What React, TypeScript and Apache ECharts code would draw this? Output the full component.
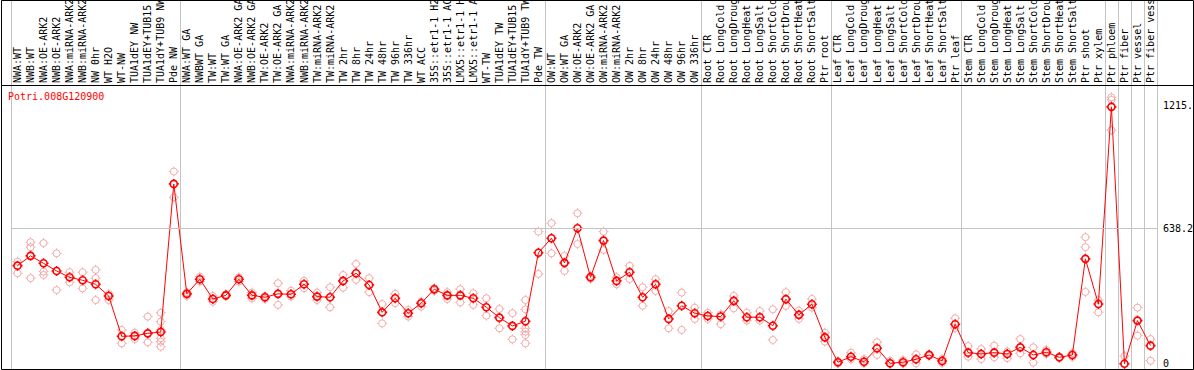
import React, { useEffect, useRef } from "react";
import * as echarts from "echarts";

const geneId = "Potri.008G120900";

const categories = [
  "NWA:WT", "NWB:WT", "NWA:OE-ARK2", "NWB:OE-ARK2", "NWA:miRNA-ARK2", "NWB:miRNA-ARK2",
  "NW 0hr", "WT H2O", "WT-NW", "TUA1dEY NW", "TUA1dEY+TUB15 NW", "TUA1dY+TUB9 NW", "Pde NW",
  "NWA:WT GA", "NWBWT GA", "TW:WT", "TW:WT GA", "NWA:OE-ARK2 GA", "NWB:OE-ARK2 GA",
  "TW:OE-ARK2", "TW:OE-ARK2 GA", "NWA:miRNA-ARK2", "NWB:miRNA-ARK2", "TW:miRNA-ARK2",
  "TW:miRNA-ARK2", "TW 2hr", "TW 8hr", "TW 24hr", "TW 48hr", "TW 96hr", "TW 336hr", "WT ACC",
  "35S::etr1-1 H2O", "35S::etr1-1 ACC", "LMX5::etr1-1 H2O", "LMX5::etr1-1 ACC", "WT-TW",
  "TUA1dEY TW", "TUA1dEY+TUB15 TW", "TUA1dY+TUB9 TW", "Pde TW",
  "OW:WT", "OW:WT GA", "OW:OE-ARK2", "OW:OE-ARK2 GA", "OW:miRNA-ARK2", "OW:miRNA-ARK2",
  "OW 2hr", "OW 8hr", "OW 24hr", "OW 48hr", "OW 96hr", "OW 336hr",
  "Root CTR", "Root LongCold", "Root LongDrought", "Root LongHeat", "Root LongSalt",
  "Root ShortCold", "Root ShortDrought", "Root ShortHeat", "Root ShortSalt", "Ptr root",
  "Leaf CTR", "Leaf LongCold", "Leaf LongDrought", "Leaf LongHeat", "Leaf LongSalt",
  "Leaf ShortCold", "Leaf ShortDrought", "Leaf ShortHeat", "Leaf ShortSalt", "Ptr leaf",
  "Stem CTR", "Stem LongCold", "Stem LongDrought", "Stem LongHeat", "Stem LongSalt",
  "Stem ShortCold", "Stem ShortDrought", "Stem ShortHeat", "Stem ShortSalt", "Ptr shoot",
  "Ptr xylem", "Ptr phloem", "Ptr fiber", "Ptr vessel", "Ptr fiber vessel",
];

const meanValues = [
  462, 508, 473, 437, 407, 393, 374, 319, 129, 131, 143, 149, 847,
  329, 398, 305, 322, 398, 322, 313, 329, 327, 374, 316, 313, 390, 426, 371, 242, 308, 238,
  285, 351, 322, 322, 308, 266, 217, 178, 200, 523,
  591, 475, 638, 407, 580, 390, 431, 313, 374, 211, 273, 238,
  225, 222, 296, 219, 219, 179, 304, 230, 280, 124,
  7, 33, 9, 73, 2, 7, 21, 41, 13, 186,
  52, 46, 52, 46, 77, 41, 54, 30, 41, 494, 281,
  1210, 0, 203, 85,
];

const replicateValues: number[][] = [
  [481, 426], [572, 549, 403], [568, 434, 418], [520, 347], [431, 384], [431, 355],
  [442, 403, 300], [329, 300], [159, 96], [146, 116], [222, 101],
  [240, 198, 159, 120, 104, 80], [905, 784],
  [337, 319], [410, 387], [319, 292], [319, 328], [407, 387], [335, 308], [319, 305],
  [379, 277], [344, 316], [390, 355], [335, 300], [360, 266], [418, 358], [470, 395],
  [403, 337], [281, 190], [329, 285], [253, 222], [292, 269], [355, 343], [337, 305],
  [351, 289], [332, 277], [308, 226], [258, 167], [238, 115],
  [300, 256, 167, 151, 135, 96], [622, 423],
  [662, 520], [508, 437], [709, 564], [400, 414], [622, 536], [407, 374], [461, 399],
  [360, 273], [398, 343], [248, 167], [335, 159], [264, 211],
  [240, 211], [233, 186], [319, 261], [240, 203], [248, 203], [256, 112], [337, 272],
  [250, 211], [305, 264], [146, 104],
  [12, 2], [52, 21], [21, 2], [101, 41], [14, 0], [17, 0], [44, 2], [46, 36], [22, 3],
  [214, 168],
  [83, 33], [69, 22], [85, 30], [57, 26], [116, 49], [77, 5], [65, 46], [32, 27], [50, 32],
  [596, 549, 338], [300, 242],
  [1255, 1243, 1100], [36, 0], [264, 132], [116, 14],
];

const groupStartIndices = [0, 13, 41, 53, 63, 73, 84, 85, 86, 87];
const yTickValues = [0, 638.2, 1215];
const yTickLabels = ["0", "638.2", "1215."];
const gridLineValue = 638.2;

const MONO = "'DejaVu Sans Mono', 'Liberation Mono', monospace";
const MARKER =
  "path://M5 1.5A3.5 3.5 0 1 1 5 8.5A3.5 3.5 0 1 1 5 1.5ZM5 0L5 1.5M5 8.5L5 10M0 5L1.5 5M8.5 5L10 5";

export default function App() {
  const ref = useRef<HTMLDivElement>(null);

  useEffect(() => {
    const chart = echarts.init(ref.current as HTMLDivElement, null, { renderer: "svg" });
    const starts = new Set(groupStartIndices);
    const splitInterval = (i: number) => starts.has(i);
    const sepLine = {
      show: true,
      interval: splitInterval,
      lineStyle: { color: "#c4c4c4", width: 1, type: "solid" },
    };
    const repData: number[][] = [];
    replicateValues.forEach((reps, i) => reps.forEach((v) => repData.push([i, v])));

    chart.setOption({
      animation: false,
      backgroundColor: "#ffffff",
      title: {
        text: geneId,
        left: 8,
        top: 91,
        padding: 0,
        textStyle: { color: "#ff0000", fontFamily: MONO, fontSize: 10, fontWeight: "normal" },
      },
      grid: [
        { left: 11, right: 37, top: 0, height: 85, containLabel: false, outerBoundsMode: "none" },
        { left: 11, right: 37, top: 85, bottom: 1, containLabel: false, outerBoundsMode: "none" },
      ],
      xAxis: [
        {
          type: "category",
          gridIndex: 0,
          data: categories,
          position: "bottom",
          boundaryGap: true,
          axisLine: { show: false },
          axisTick: { show: false },
          axisLabel: {
            inside: true,
            rotate: 90,
            interval: 0,
            margin: 2,
            color: "#000000",
            fontFamily: MONO,
            fontSize: 10,
          },
          splitLine: sepLine,
        },
        {
          type: "category",
          gridIndex: 1,
          data: categories,
          boundaryGap: true,
          axisLine: { show: false },
          axisTick: { show: false },
          axisLabel: { show: false },
          splitLine: sepLine,
        },
      ],
      yAxis: [
        { type: "value", gridIndex: 0, show: false, min: 0, max: 1 },
        {
          type: "value",
          gridIndex: 1,
          position: "right",
          min: -25,
          max: 1313,
          axisLine: { show: false },
          axisTick: { show: false },
          splitLine: { show: false },
          axisLabel: {
            customValues: yTickValues,
            formatter: (v: number) => {
              const k = yTickValues.findIndex((t) => Math.abs(t - v) < 1e-6);
              return k >= 0 ? yTickLabels[k] : "";
            },
            margin: 6,
            color: "#000000",
            fontFamily: MONO,
            fontSize: 10,
          },
        },
      ],
      graphic: [
        {
          type: "rect",
          silent: true,
          shape: { x: 1.5, y: 0.5, width: 1192, height: 369 },
          style: { fill: "none", stroke: "#000000", lineWidth: 1 },
          z: 100,
        },
        {
          type: "line",
          silent: true,
          shape: { x1: 1.5, y1: 85.5, x2: 1193.5, y2: 85.5 },
          style: { stroke: "#000000", lineWidth: 1 },
          z: 100,
        },
      ],
      series: [
        {
          type: "scatter",
          xAxisIndex: 1,
          yAxisIndex: 1,
          data: repData,
          symbol: MARKER,
          symbolSize: 10,
          silent: true,
          itemStyle: { color: "rgba(0,0,0,0)", borderColor: "#f09a9a", borderWidth: 1 },
          z: 2,
          markLine: {
            silent: true,
            symbol: ["none", "none"],
            label: { show: false },
            lineStyle: { color: "#c4c4c4", type: "solid", width: 1 },
            data: [{ yAxis: gridLineValue }],
          },
        },
        {
          type: "line",
          xAxisIndex: 1,
          yAxisIndex: 1,
          data: meanValues,
          symbol: MARKER,
          symbolSize: 10,
          showAllSymbol: true,
          silent: true,
          lineStyle: { color: "#ff0000", width: 1 },
          itemStyle: { color: "rgba(0,0,0,0)", borderColor: "#ff0000", borderWidth: 1.6 },
          z: 3,
        },
      ],
    });
    return () => chart.dispose();
  }, []);

  return (
    <div
      ref={ref}
      style={{ position: "absolute", left: 0, top: 0, width: 1194, height: 370 }}
    />
  );
}
